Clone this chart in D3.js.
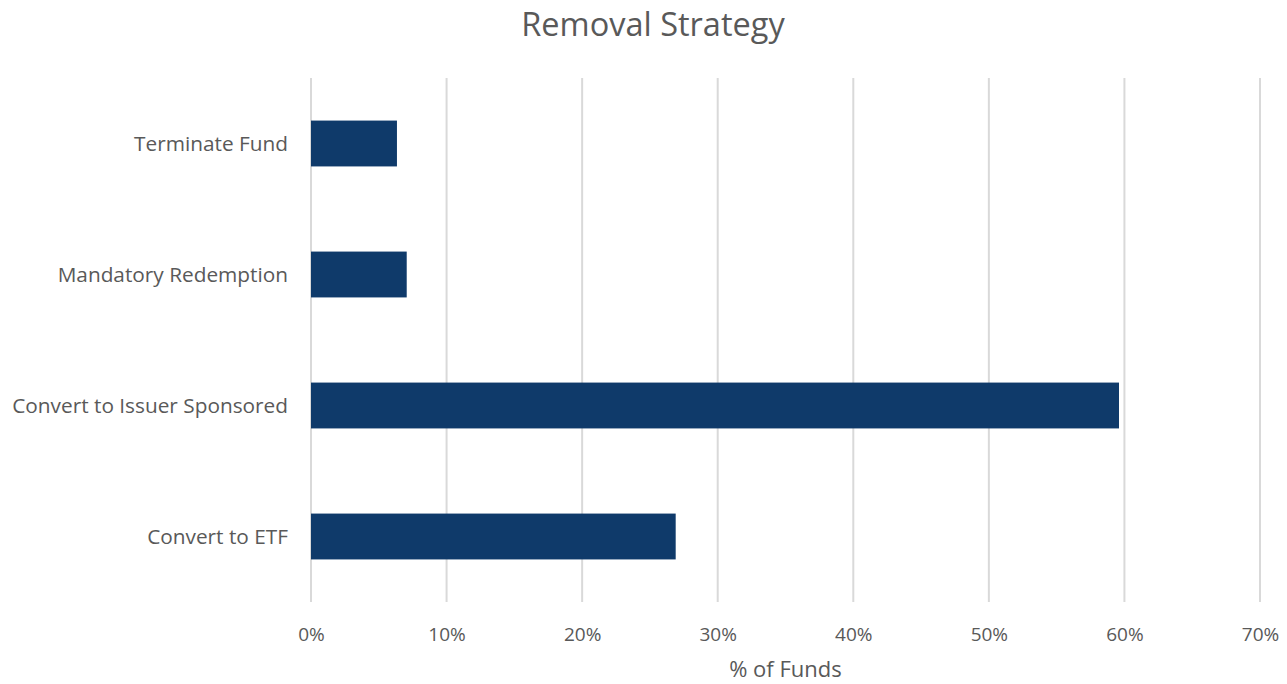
<!DOCTYPE html>
<html><head><meta charset="utf-8">
<script src="https://cdn.jsdelivr.net/npm/d3@7"></script>
<style>body{margin:0;background:#fff;} svg{display:block;}</style>
</head><body>
<svg id="chart" width="1287" height="684"></svg>
<script>
const categories = ["Terminate Fund", "Mandatory Redemption", "Convert to Issuer Sponsored", "Convert to ETF"];
const values = [0.0634, 0.0706, 0.596, 0.269];
const xTicks = [0, 0.1, 0.2, 0.3, 0.4, 0.5, 0.6, 0.7];
const title = "Removal Strategy";
const xTitle = "% of Funds";

const svg = d3.select("#chart");
const m = {left: 311, right: 1260, top: 78, bottom: 602};
const font = "'Open Sans', 'Noto Sans', sans-serif";
const grey = "#595959";

const x = d3.scaleLinear().domain([0, 0.7]).range([m.left, m.right]);
const y = d3.scaleBand().domain(categories).range([m.top, m.bottom]).paddingInner(0.65).paddingOuter(0.325);

svg.append("g").selectAll("line").data(xTicks).join("line")
  .attr("x1", d => x(d)).attr("x2", d => x(d))
  .attr("y1", m.top).attr("y2", m.bottom)
  .attr("stroke", "#d9d9d9").attr("stroke-width", 2);

svg.append("g").selectAll("rect").data(categories).join("rect")
  .attr("x", x(0)).attr("y", d => y(d))
  .attr("width", (d, i) => x(values[i]) - x(0))
  .attr("height", y.bandwidth())
  .attr("fill", "#0f3a6a");

const xAxis = d3.axisBottom(x).tickValues(xTicks).tickFormat(d3.format(".0%")).tickSize(0).tickPadding(0);
const gx = svg.append("g").attr("transform", `translate(0,${m.bottom})`).call(xAxis);
gx.select(".domain").remove();
gx.selectAll("text").attr("dy", null).attr("y", 39).attr("font-family", font).attr("font-size", 19).attr("fill", grey);

const yAxis = d3.axisLeft(y).tickSize(0).tickPadding(0);
const gy = svg.append("g").attr("transform", `translate(${m.left - 23},0)`).call(yAxis);
gy.select(".domain").remove();
gy.selectAll("text").attr("dy", "0.35em").attr("font-family", font).attr("font-size", 20.8).attr("fill", grey);

svg.append("text").attr("x", 653).attr("y", 36).attr("text-anchor", "middle")
  .attr("font-family", font).attr("font-size", 32.5).attr("fill", grey).text(title);

svg.append("text").attr("x", (m.left + m.right) / 2).attr("y", 677).attr("text-anchor", "middle")
  .attr("font-family", font).attr("font-size", 22).attr("fill", grey).text(xTitle);
</script>
</body></html>
